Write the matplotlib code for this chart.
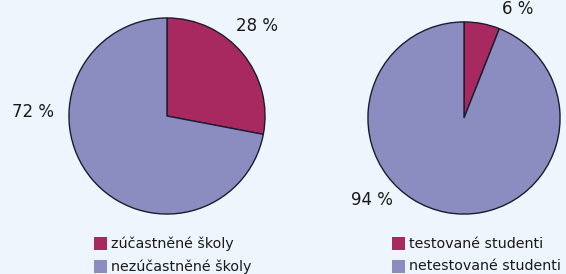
import numpy as np
import matplotlib.pyplot as plt
from matplotlib.patches import Rectangle

plt.rcParams["font.family"] = "DejaVu Sans"

# data
schools_labels = ["zúčastněné školy", "nezúčastněné školy"]
schools_values = [28, 72]
students_labels = ["testované studenti", "netestované studenti"]
students_values = [6, 94]

colors = ["#a8295f", "#8b8cc0"]
bg = "#eef5fc"
W, H = 566, 274


def fx(px):
    return px / W


def fy(py):
    return 1 - py / H


fig = plt.figure(figsize=(W / 100, H / 100), dpi=100)
fig.patch.set_facecolor(bg)


def make_pie(cx, cy, r, values):
    ax = fig.add_axes([fx(cx - r), fy(cy + r), 2 * r / W, 2 * r / H])
    ax.pie(values, colors=colors, startangle=90, counterclock=False,
           radius=1.0,
           wedgeprops=dict(edgecolor="#1c1c30", linewidth=1.0))
    ax.set_xlim(-1.02, 1.02)
    ax.set_ylim(-1.02, 1.02)
    ax.set_aspect("auto")
    ax.axis("off")
    return ax


make_pie(167, 116, 100, schools_values)
make_pie(464, 118, 98, students_values)

tc = "#1a1a1a"
fig.text(fx(257), fy(26), f"{schools_values[0]} %", fontsize=12, color=tc,
         ha="center", va="center")
fig.text(fx(33), fy(112), f"{schools_values[1]} %", fontsize=12, color=tc,
         ha="center", va="center")
fig.text(fx(518), fy(9), f"{students_values[0]} %", fontsize=12, color=tc,
         ha="center", va="center")
fig.text(fx(372), fy(200), f"{students_values[1]} %", fontsize=12, color=tc,
         ha="center", va="center")


def legend(x, y0, labels):
    for i, lab in enumerate(labels):
        y = y0 + i * 23
        fig.patches.append(Rectangle((fx(x), fy(y + 13)), 13 / W, 13 / H,
                                     transform=fig.transFigure,
                                     facecolor=colors[i], edgecolor="none"))
        fig.text(fx(x + 17), fy(y + 6.5), lab, fontsize=10.3, color=tc,
                 ha="left", va="center")


legend(94, 237, schools_labels)
legend(392, 237, students_labels)

plt.savefig("out.png", dpi=100, facecolor=bg)
